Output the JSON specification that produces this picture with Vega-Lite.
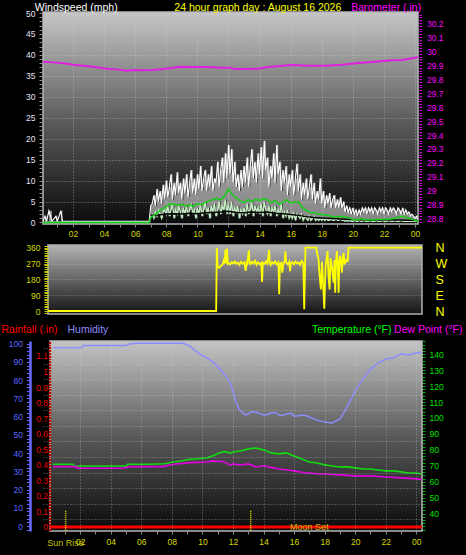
{
"$schema":"https://vega.github.io/schema/vega-lite/v6.json",
"background":"#000000",
"padding":{"left":1,"top":1,"right":6,"bottom":10},
"bounds":"flush",
"spacing":21,
"datasets":{
"wind":[{"h":0.07,"g":0.3,"s":0},{"h":0.2,"g":1.5,"s":0},{"h":0.3,"g":0.3,"s":0},{"h":0.45,"g":2.8,"s":0},{"h":0.65,"g":0.3,"s":0},{"h":0.9,"g":1.5,"s":0},{"h":1.0,"g":0.3,"s":0},{"h":1.22,"g":2.8,"s":0},{"h":1.32,"g":0.3,"s":0},{"h":6.9,"g":0.3,"s":0},
{"h":7.0,"g":4,"s":1.5},{"h":7.1,"g":4.5,"s":2},{"h":7.2,"g":6.5,"s":1},{"h":7.3,"g":4,"s":2.5},{"h":7.4,"g":8,"s":1.5},{"h":7.5,"g":5,"s":3},{"h":7.6,"g":7.5,"s":2},{"h":7.7,"g":4.5,"s":1},{"h":7.8,"g":9,"s":2.5},{"h":7.9,"g":5.5,"s":3},
{"h":8.0,"g":10,"s":2},{"h":8.1,"g":6,"s":4},{"h":8.2,"g":8.5,"s":1.5},{"h":8.3,"g":11.5,"s":3},{"h":8.4,"g":5.5,"s":4.5},{"h":8.5,"g":9.5,"s":1},{"h":8.6,"g":6.5,"s":3},{"h":8.7,"g":12,"s":2},{"h":8.8,"g":7,"s":4},{"h":8.9,"g":9.5,"s":2.5},
{"h":9.0,"g":5.5,"s":1},{"h":9.1,"g":10.5,"s":3.5},{"h":9.2,"g":7,"s":2},{"h":9.3,"g":11.5,"s":4},{"h":9.4,"g":6,"s":1.5},{"h":9.5,"g":9.5,"s":3},{"h":9.6,"g":12.5,"s":4.5},{"h":9.7,"g":7,"s":2},{"h":9.8,"g":10.5,"s":3},{"h":9.9,"g":6.5,"s":1},
{"h":10.0,"g":11.5,"s":3.5},{"h":10.1,"g":8,"s":2},{"h":10.2,"g":13.5,"s":4.5},{"h":10.3,"g":7.5,"s":1.5},{"h":10.4,"g":10.5,"s":3},{"h":10.5,"g":12.5,"s":5},{"h":10.6,"g":7.5,"s":2},{"h":10.7,"g":11.5,"s":3.5},{"h":10.8,"g":8.5,"s":1},{"h":10.9,"g":13.5,"s":4},
{"h":11.0,"g":7.5,"s":2.5},{"h":11.1,"g":10.5,"s":4.5},{"h":11.2,"g":9.5,"s":1.5},{"h":11.3,"g":14.5,"s":3},{"h":11.4,"g":8.5,"s":5},{"h":11.5,"g":12.5,"s":2},{"h":11.6,"g":15.5,"s":4},{"h":11.7,"g":9.5,"s":3},{"h":11.8,"g":16.5,"s":5.5},{"h":11.9,"g":10.5,"s":2},
{"h":12.0,"g":18.5,"s":4.5},{"h":12.1,"g":11.5,"s":2},{"h":12.2,"g":17.5,"s":5},{"h":12.3,"g":9.5,"s":1.5},{"h":12.4,"g":14.5,"s":3.5},{"h":12.5,"g":8.5,"s":2.5},{"h":12.6,"g":11.5,"s":4},{"h":12.7,"g":7.5,"s":1},{"h":12.8,"g":12.5,"s":3},{"h":12.9,"g":8.5,"s":2},
{"h":13.0,"g":13.5,"s":3.5},{"h":13.1,"g":9.5,"s":1.5},{"h":13.2,"g":15.5,"s":4.5},{"h":13.3,"g":8.5,"s":2},{"h":13.4,"g":13.5,"s":3},{"h":13.5,"g":17.5,"s":5},{"h":13.6,"g":10.5,"s":1.5},{"h":13.7,"g":14.5,"s":4},{"h":13.8,"g":9.5,"s":2.5},{"h":13.9,"g":16.5,"s":3.5},
{"h":14.0,"g":11.5,"s":2},{"h":14.1,"g":18,"s":4.5},{"h":14.2,"g":10.5,"s":1.5},{"h":14.3,"g":19.5,"s":5},{"h":14.4,"g":12.5,"s":3},{"h":14.5,"g":15.5,"s":2},{"h":14.6,"g":8.5,"s":4},{"h":14.7,"g":13.5,"s":1.5},{"h":14.8,"g":10.5,"s":3.5},{"h":14.9,"g":16.5,"s":2.5},
{"h":15.0,"g":9.5,"s":4},{"h":15.1,"g":18.5,"s":1.5},{"h":15.2,"g":11.5,"s":3},{"h":15.3,"g":14.5,"s":2},{"h":15.4,"g":7.5,"s":4.5},{"h":15.5,"g":12.5,"s":1},{"h":15.6,"g":9.5,"s":2.5},{"h":15.7,"g":13.5,"s":1.5},{"h":15.8,"g":6.5,"s":3},{"h":15.9,"g":11.5,"s":1},
{"h":16.0,"g":8.5,"s":2},{"h":16.1,"g":12.5,"s":1},{"h":16.2,"g":6.5,"s":2.5},{"h":16.3,"g":10.5,"s":0.5},{"h":16.4,"g":14,"s":2},{"h":16.5,"g":7.5,"s":1.5},{"h":16.6,"g":11.5,"s":1},{"h":16.7,"g":5.5,"s":2},{"h":16.8,"g":9.5,"s":0.5},{"h":16.9,"g":6.5,"s":1.5},
{"h":17.0,"g":10.5,"s":1},{"h":17.1,"g":5.5,"s":0.5},{"h":17.2,"g":8.5,"s":1.5},{"h":17.3,"g":11.5,"s":0.5},{"h":17.4,"g":5.5,"s":1},{"h":17.5,"g":9.5,"s":1.5},{"h":17.6,"g":4.5,"s":0.5},{"h":17.7,"g":7.5,"s":1},{"h":17.8,"g":5.5,"s":0.5},{"h":17.9,"g":10.5,"s":1},
{"h":18.0,"g":4.5,"s":0.5},{"h":18.1,"g":7.5,"s":1},{"h":18.2,"g":3.5,"s":0.5},{"h":18.3,"g":6.5,"s":1},{"h":18.4,"g":4.5,"s":0.5},{"h":18.5,"g":7,"s":0.5},{"h":18.6,"g":3.5,"s":1},{"h":18.7,"g":5.5,"s":0.5},{"h":18.8,"g":6.5,"s":0.5},{"h":18.9,"g":3.5,"s":1},
{"h":19.0,"g":5.5,"s":0.5},{"h":19.1,"g":3.5,"s":0.5},{"h":19.2,"g":6,"s":1},{"h":19.3,"g":3.5,"s":0.5},{"h":19.4,"g":5,"s":0.5},{"h":19.5,"g":2.5,"s":0.3},{"h":19.6,"g":4,"s":0.5},{"h":19.7,"g":2.5,"s":0.3},{"h":19.8,"g":3.5,"s":0.5},{"h":19.9,"g":2,"s":0.3},
{"h":20.0,"g":3.5,"s":0.3},{"h":20.1,"g":2,"s":0.5},{"h":20.2,"g":3,"s":0.3},{"h":20.3,"g":1.5,"s":0.3},{"h":20.4,"g":3,"s":0.5},{"h":20.5,"g":2,"s":0.3},{"h":20.6,"g":3.5,"s":0.3},{"h":20.7,"g":2.5,"s":0.5},{"h":20.8,"g":3.5,"s":0.3},{"h":20.9,"g":2,"s":0.3},
{"h":21.0,"g":3.5,"s":0.3},{"h":21.1,"g":2.5,"s":0.5},{"h":21.2,"g":3.5,"s":0.3},{"h":21.3,"g":2,"s":0.3},{"h":21.4,"g":3.5,"s":0.3},{"h":21.5,"g":3,"s":0.5},{"h":21.6,"g":2,"s":0.3},{"h":21.7,"g":3.5,"s":0.3},{"h":21.8,"g":2.5,"s":0.3},{"h":21.9,"g":3.5,"s":0.5},
{"h":22.0,"g":2,"s":0.3},{"h":22.1,"g":3.5,"s":0.3},{"h":22.2,"g":3,"s":0.3},{"h":22.3,"g":2,"s":0.5},{"h":22.4,"g":3.5,"s":0.3},{"h":22.5,"g":2.5,"s":0.3},{"h":22.6,"g":3.5,"s":0.3},{"h":22.7,"g":3,"s":0.5},{"h":22.8,"g":2,"s":0.3},{"h":22.9,"g":3.5,"s":0.3},
{"h":23.0,"g":3,"s":0.3},{"h":23.1,"g":2,"s":0.5},{"h":23.2,"g":3.5,"s":0.3},{"h":23.3,"g":2,"s":0.3},{"h":23.4,"g":3,"s":0.3},{"h":23.5,"g":2,"s":0.3},{"h":23.6,"g":2.5,"s":0.3},{"h":23.7,"g":1.5,"s":0.3},{"h":23.8,"g":2,"s":0.3},{"h":23.9,"g":1.5,"s":0.3},
{"h":24.0,"g":1,"s":0.3},{"h":24.1,"g":1.5,"s":0.3},{"h":24.19,"g":0.5,"s":0.3}],
"avg":[{"h":0.07,"a":0},{"h":6.9,"a":0},{"h":7.0,"a":1.2},{"h":7.25,"a":1.8},{"h":7.5,"a":2.6},{"h":7.75,"a":3.2},{"h":8.0,"a":3.8},{"h":8.25,"a":4.5},{"h":8.5,"a":4.3},{"h":8.75,"a":4.1},{"h":9.0,"a":4.4},{"h":9.25,"a":3.9},{"h":9.5,"a":4.3},{"h":9.75,"a":3.8},{"h":10.0,"a":4.5},{"h":10.25,"a":4.2},{"h":10.5,"a":4.8},{"h":10.75,"a":5.1},{"h":11.0,"a":5.5},{"h":11.25,"a":5.8},{"h":11.5,"a":5.4},{"h":11.75,"a":6.4},{"h":12.0,"a":8.0},{"h":12.25,"a":6.6},{"h":12.5,"a":5.9},{"h":12.75,"a":5.1},{"h":13.0,"a":4.8},{"h":13.25,"a":5.4},{"h":13.5,"a":5.0},{"h":13.75,"a":5.6},{"h":14.0,"a":5.2},{"h":14.25,"a":5.7},{"h":14.5,"a":5.4},{"h":14.75,"a":4.7},{"h":15.0,"a":5.2},{"h":15.25,"a":4.4},{"h":15.5,"a":4.8},{"h":15.75,"a":5.4},{"h":16.0,"a":4.6},{"h":16.25,"a":4.9},{"h":16.5,"a":4.9},{"h":16.75,"a":3.6},{"h":17.0,"a":2.9},{"h":17.25,"a":2.4},{"h":17.5,"a":2.3},{"h":17.75,"a":2.1},{"h":18.0,"a":1.9},{"h":18.25,"a":1.8},{"h":18.5,"a":1.6},{"h":18.75,"a":1.3},{"h":19.0,"a":1.3},{"h":19.25,"a":1.5},{"h":19.5,"a":1.3},{"h":19.75,"a":1.1},{"h":20.0,"a":0.7},{"h":20.25,"a":0.6},{"h":20.5,"a":0.9},{"h":20.75,"a":0.7},{"h":21.0,"a":0.6},{"h":21.25,"a":0.7},{"h":21.5,"a":0.6},{"h":21.75,"a":0.8},{"h":22.0,"a":0.7},{"h":22.25,"a":0.7},{"h":22.5,"a":0.9},{"h":22.75,"a":1.0},{"h":23.0,"a":1.4},{"h":23.25,"a":1.5},{"h":23.5,"a":1.1},{"h":23.75,"a":0.9},{"h":24.0,"a":0.5},{"h":24.19,"a":0.3}],
"blk":[{"h":7.0,"k":1.7},{"h":7.5,"k":1.8},{"h":8.0,"k":2.0},{"h":8.5,"k":2.1},{"h":9.0,"k":2.0},{"h":9.5,"k":2.2},{"h":10.0,"k":2.1},{"h":10.5,"k":2.3},{"h":11.0,"k":2.4},{"h":11.5,"k":2.5},{"h":12.0,"k":2.7},{"h":12.5,"k":2.4},{"h":13.0,"k":2.3},{"h":13.5,"k":2.5},{"h":14.0,"k":2.4},{"h":14.5,"k":2.5},{"h":15.0,"k":2.2},{"h":15.5,"k":2.1},{"h":16.0,"k":1.9},{"h":16.5,"k":1.7},{"h":17.0,"k":1.4},{"h":17.5,"k":1.2},{"h":18.0,"k":1.1},{"h":18.5,"k":1.0},{"h":19.0,"k":0.9},{"h":19.5,"k":0.8},{"h":20.0,"k":0.7},{"h":21.0,"k":0.6},{"h":22.0,"k":0.6},{"h":23.0,"k":0.6},{"h":24.19,"k":0.5}],
"baro":[{"h":0.07,"b":29.924},{"h":0.73,"b":29.919},{"h":1.38,"b":29.912},{"h":2.02,"b":29.902},{"h":2.66,"b":29.895},{"h":3.31,"b":29.888},{"h":4.17,"b":29.874},{"h":4.81,"b":29.869},{"h":5.46,"b":29.859},{"h":5.88,"b":29.864},{"h":6.52,"b":29.862},{"h":7.17,"b":29.864},{"h":7.81,"b":29.871},{"h":8.45,"b":29.881},{"h":8.88,"b":29.888},{"h":9.74,"b":29.886},{"h":10.6,"b":29.886},{"h":11.46,"b":29.881},{"h":12.1,"b":29.881},{"h":12.42,"b":29.871},{"h":13.07,"b":29.871},{"h":13.92,"b":29.874},{"h":14.56,"b":29.886},{"h":16.07,"b":29.9},{"h":17.14,"b":29.895},{"h":18.21,"b":29.895},{"h":19.29,"b":29.902},{"h":20.35,"b":29.914},{"h":21.43,"b":29.924},{"h":22.5,"b":29.934},{"h":23.15,"b":29.936},{"h":24.0,"b":29.952},{"h":24.19,"b":29.958}],
"dir":[{"h":0.39,"d":0},{"h":11.2,"d":0},{"h":11.24,"d":360},{"h":11.3,"d":250},{"h":11.4,"d":245},{"h":11.5,"d":258},{"h":11.6,"d":262},{"h":11.7,"d":290},{"h":11.75,"d":270},{"h":11.8,"d":350},{"h":11.85,"d":270},{"h":11.9,"d":355},{"h":11.95,"d":268},{"h":12.0,"d":272},{"h":12.1,"d":265},{"h":12.2,"d":278},{"h":12.3,"d":270},{"h":12.4,"d":282},{"h":12.5,"d":268},{"h":12.6,"d":275},{"h":12.7,"d":262},{"h":12.8,"d":280},{"h":12.9,"d":270},{"h":13.0,"d":276},{"h":13.1,"d":228},{"h":13.15,"d":275},{"h":13.2,"d":268},{"h":13.3,"d":345},{"h":13.35,"d":272},{"h":13.4,"d":266},{"h":13.5,"d":280},{"h":13.6,"d":270},{"h":13.7,"d":285},{"h":13.8,"d":262},{"h":13.9,"d":278},{"h":14.0,"d":265},{"h":14.1,"d":272},{"h":14.15,"d":165},{"h":14.2,"d":275},{"h":14.3,"d":268},{"h":14.4,"d":282},{"h":14.5,"d":270},{"h":14.6,"d":348},{"h":14.65,"d":275},{"h":14.7,"d":262},{"h":14.8,"d":278},{"h":14.9,"d":270},{"h":15.0,"d":283},{"h":15.1,"d":265},{"h":15.2,"d":276},{"h":15.25,"d":95},{"h":15.3,"d":268},{"h":15.4,"d":275},{"h":15.45,"d":218},{"h":15.5,"d":262},{"h":15.6,"d":284},{"h":15.65,"d":340},{"h":15.7,"d":275},{"h":15.8,"d":266},{"h":15.9,"d":280},{"h":15.95,"d":226},{"h":16.0,"d":270},{"h":16.1,"d":278},{"h":16.2,"d":265},{"h":16.3,"d":282},{"h":16.4,"d":270},{"h":16.5,"d":276},{"h":16.6,"d":262},{"h":16.7,"d":285},{"h":16.8,"d":272},{"h":16.86,"d":10},{"h":16.94,"d":360},{"h":17.63,"d":360},{"h":17.68,"d":331},{"h":17.78,"d":294},{"h":17.85,"d":200},{"h":17.93,"d":123},{"h":18.0,"d":280},{"h":18.06,"d":180},{"h":18.15,"d":13},{"h":18.23,"d":256},{"h":18.3,"d":300},{"h":18.36,"d":341},{"h":18.42,"d":200},{"h":18.49,"d":123},{"h":18.55,"d":300},{"h":18.6,"d":275},{"h":18.68,"d":220},{"h":18.75,"d":161},{"h":18.8,"d":290},{"h":18.85,"d":104},{"h":18.9,"d":280},{"h":18.96,"d":341},{"h":19.02,"d":250},{"h":19.07,"d":104},{"h":19.12,"d":290},{"h":19.18,"d":313},{"h":19.23,"d":270},{"h":19.28,"d":218},{"h":19.34,"d":300},{"h":19.39,"d":331},{"h":19.45,"d":270},{"h":19.5,"d":275},{"h":19.55,"d":285},{"h":19.61,"d":294},{"h":19.66,"d":280},{"h":19.71,"d":360},{"h":24.43,"d":360}],
"hum":[{"h":0.23,"v":97.8},{"h":2.13,"v":97.8},{"h":2.19,"v":99.1},{"h":5.05,"v":99.1},{"h":5.14,"v":99.7},{"h":5.66,"v":100.2},{"h":8.74,"v":100.2},{"h":9.2,"v":98.7},{"h":9.42,"v":96.9},{"h":9.86,"v":94.2},{"h":10.29,"v":92.3},{"h":10.73,"v":89.6},{"h":11.17,"v":86.0},{"h":11.6,"v":81.3},{"h":11.82,"v":78.6},{"h":12.0,"v":74},{"h":12.2,"v":68},{"h":12.4,"v":64},{"h":12.6,"v":62.5},{"h":12.8,"v":61.0},{"h":13.0,"v":61.4},{"h":13.2,"v":62.7},{"h":13.5,"v":62.5},{"h":13.8,"v":61.5},{"h":14.0,"v":60.9},{"h":14.2,"v":61.0},{"h":14.5,"v":62},{"h":14.8,"v":62.3},{"h":15.0,"v":60.9},{"h":15.2,"v":60.6},{"h":15.5,"v":61.4},{"h":15.8,"v":61.8},{"h":16.0,"v":60.3},{"h":16.2,"v":60.4},{"h":16.5,"v":60.9},{"h":16.8,"v":60.5},{"h":17.0,"v":59.8},{"h":17.5,"v":58.1},{"h":18.0,"v":57},{"h":18.5,"v":56.5},{"h":19.0,"v":58.7},{"h":19.5,"v":65.8},{"h":20.0,"v":74.1},{"h":20.5,"v":80.6},{"h":21.0,"v":86.1},{"h":21.5,"v":89.4},{"h":22.0,"v":91.6},{"h":22.5,"v":92.2},{"h":23.0,"v":94.4},{"h":23.5,"v":93.8},{"h":24.0,"v":94.9},{"h":24.35,"v":95.4}],
"temp":[{"h":0.23,"t":71.0},{"h":1.54,"t":71.0},{"h":1.6,"t":69.9},{"h":5.06,"t":69.9},{"h":5.1,"t":71.0},{"h":6.5,"t":71.0},{"h":7.5,"t":71.3},{"h":8.1,"t":72.4},{"h":8.6,"t":73.0},{"h":9.2,"t":74.1},{"h":9.7,"t":74.4},{"h":10.3,"t":75.1},{"h":10.7,"t":76.3},{"h":11.17,"t":78.3},{"h":11.5,"t":78.9},{"h":11.82,"t":77.9},{"h":12.0,"t":78.7},{"h":12.5,"t":79.3},{"h":13.0,"t":80.6},{"h":13.5,"t":81.2},{"h":14.0,"t":80.0},{"h":14.5,"t":78.1},{"h":15.0,"t":77.5},{"h":15.5,"t":78.1},{"h":16.0,"t":76.2},{"h":16.5,"t":74.3},{"h":17.0,"t":72.4},{"h":17.5,"t":71.8},{"h":18.0,"t":70.6},{"h":18.5,"t":69.9},{"h":19.0,"t":69.3},{"h":19.5,"t":69.3},{"h":20.0,"t":68.7},{"h":20.5,"t":68.0},{"h":21.0,"t":68.0},{"h":21.5,"t":67.4},{"h":22.0,"t":66.8},{"h":22.5,"t":66.8},{"h":23.0,"t":66.2},{"h":23.5,"t":65.5},{"h":24.0,"t":65.5},{"h":24.35,"t":64.9}],
"dew":[{"h":0.23,"dp":69.5},{"h":1.78,"dp":69.5},{"h":1.8,"dp":68.5},{"h":4.8,"dp":68.5},{"h":5.27,"dp":69.5},{"h":7.4,"dp":69.5},{"h":8.1,"dp":71.0},{"h":9.2,"dp":72.0},{"h":10.3,"dp":72.4},{"h":10.7,"dp":73.1},{"h":11.4,"dp":72.6},{"h":11.82,"dp":70.4},{"h":12.0,"dp":71.2},{"h":12.5,"dp":70.5},{"h":13.0,"dp":71.2},{"h":13.5,"dp":69.3},{"h":14.0,"dp":70.0},{"h":14.5,"dp":69.0},{"h":15.0,"dp":68.0},{"h":15.5,"dp":67.5},{"h":16.0,"dp":66.8},{"h":16.5,"dp":66.0},{"h":17.0,"dp":65.5},{"h":17.5,"dp":65.0},{"h":18.0,"dp":64.9},{"h":18.5,"dp":64.5},{"h":19.0,"dp":64.3},{"h":20.0,"dp":63.7},{"h":21.0,"dp":63.7},{"h":22.0,"dp":63.0},{"h":23.0,"dp":62.4},{"h":24.0,"dp":61.8},{"h":24.35,"dp":61.5}],
"rain":[{"h":0.03,"r":0},{"h":24.37,"r":0}],
"ev":[{"h":1.05},{"h":13.16}],
"notes":[{"h":17.0,"r":0,"label":"Moon Set"},{"h":1.05,"r":-0.1,"label":"Sun Rise"}]
},
"vconcat":[
{
"width":375,"height":212,
"view":{"fill":{"gradient":"linear","x1":0,"y1":0,"x2":0,"y2":1,"stops":[{"offset":0,"color":"#c6c6c6"},{"offset":0.5,"color":"#5e5e5e"},{"offset":1,"color":"#0a0a0a"}]},"stroke":"#b8b8b8","strokeWidth":1.5},
"layer":[
{"layer":[
{"data":{"name":"wind"},"mark":{"type":"area","color":"#ececec","opacity":0.55,"interpolate":"step-after"},
"encoding":{"x":{"field":"h","type":"quantitative","scale":{"domain":[0.07,24.19],"nice":false,"zero":false},
"axis":{"orient":"bottom","values":[1,2,3,4,5,6,7,8,9,10,11,12,13,14,15,16,17,18,19,20,21,22,23,24],"tickCount":40,"format":"02d","labelExpr":"datum.value % 2 == 0 ? (datum.value == 24 ? '00' : datum.label) : ''","labelOverlap":false,"labelColor":"#d8d800","tickColor":"#8a8a8a","tickSize":3,"labelPadding":2.5,"domain":false,"grid":true,"gridOpacity":{"condition":{"test":"datum.value % 2 != 0","value":0},"value":0.55},"title":null}},
"y":{"field":"s","type":"quantitative","scale":{"domain":[-0.36,50.24],"nice":false,"zero":false},
"axis":{"orient":"left","tickCount":50,"labelExpr":"datum.value % 5 == 0 ? datum.label : ''","labelOverlap":false,"labelColor":"#e4e4f4","tickColor":"#8c8c8c","tickSize":3,"offset":1,"labelPadding":4,"domain":false,"grid":true,"gridOpacity":{"condition":{"test":"datum.value % 5 != 0 || datum.value <= 0 || datum.value >= 50","value":0},"value":0.55},"title":"Windspeed (mph)","titleColor":"#ffffff","titleAlign":"left","titleBaseline":"alphabetic","titleX":-7.7,"titleY":-1.7}},
"y2":{"field":"g"}}},
{"data":{"name":"wind"},"mark":{"type":"line","color":"#ffffff","strokeWidth":1.1},
"encoding":{"x":{"field":"h","type":"quantitative","scale":{"domain":[0.07,24.19],"nice":false,"zero":false}},
"y":{"field":"g","type":"quantitative","scale":{"domain":[-0.36,50.24],"nice":false,"zero":false}}}},
{"data":{"name":"wind"},"mark":{"type":"line","color":"#c4f0c4","strokeWidth":1.3},
"encoding":{"x":{"field":"h","type":"quantitative","scale":{"domain":[0.07,24.19],"nice":false,"zero":false}},
"y":{"field":"s","type":"quantitative","scale":{"domain":[-0.36,50.24],"nice":false,"zero":false}}}},
{"data":{"name":"blk"},"mark":{"type":"line","color":"#000000","strokeWidth":1.5},
"encoding":{"x":{"field":"h","type":"quantitative","scale":{"domain":[0.07,24.19],"nice":false,"zero":false}},
"y":{"field":"k","type":"quantitative","scale":{"domain":[-0.36,50.24],"nice":false,"zero":false}}}},
{"data":{"name":"avg"},"mark":{"type":"line","color":"#14d014","strokeWidth":1.5},
"encoding":{"x":{"field":"h","type":"quantitative","scale":{"domain":[0.07,24.19],"nice":false,"zero":false}},
"y":{"field":"a","type":"quantitative","scale":{"domain":[-0.36,50.24],"nice":false,"zero":false}}}}
]},
{"data":{"name":"baro"},"mark":{"type":"line","color":"#e020e0","strokeWidth":2},
"encoding":{"x":{"field":"h","type":"quantitative","scale":{"domain":[0.07,24.19],"nice":false,"zero":false},
"axis":{"orient":"top","labels":false,"ticks":false,"domain":false,"grid":false,"title":"24 hour graph day : August 16 2026","titleColor":"#ffff00","titleAlign":"center","titleBaseline":"alphabetic","titleX":214.3,"titleY":-1.7}},
"y":{"field":"b","type":"quantitative","scale":{"domain":[28.764,30.279],"nice":false,"zero":false},
"axis":{"orient":"right","tickCount":75,"labelExpr":"abs(datum.value*10 - round(datum.value*10)) < 0.001 ? '' + round(datum.value*10)/10 : ''","labelOverlap":false,"labelColor":"#ff00ff","tickColor":"#e000e0","tickSize":2.5,"offset":1,"labelPadding":5,"domain":false,"grid":false,"title":"Barometer (.in)","titleColor":"#ff00ff","titleAlign":"right","titleBaseline":"alphabetic","titleX":1.7,"titleY":-1.7}}}}
],
"resolve":{"scale":{"x":"independent","y":"independent"}}
},
{
"bounds":"flush",
"spacing":27,
"vconcat":[
{
"width":379,"height":69,
"layer":[
{"data":{"values":[{}]},"mark":{"type":"rect","fill":{"gradient":"linear","x1":0,"y1":0,"x2":0,"y2":1,"stops":[{"offset":0,"color":"#b4b4b4"},{"offset":1,"color":"#141414"}]},"stroke":"#b0b0b0","strokeWidth":1.5},
"encoding":{"x":{"datum":0.39,"type":"quantitative","scale":{"domain":[0.07,24.43],"nice":false,"zero":false},"axis":null},"x2":{"datum":24.43},
"y":{"datum":-17,"type":"quantitative","scale":{"domain":[-17,375.3],"nice":false,"zero":false},
"axis":{"orient":"left","tickCount":39,"labelExpr":"datum.value % 90 == 0 && datum.value >= 0 ? datum.label : ''","labelOverlap":false,"labelColor":"#d8d800","tickColor":"#c8c800","tickSize":4,"offset":-5,"labelPadding":4,"domain":false,"grid":true,"gridOpacity":{"condition":{"test":"datum.value % 90 != 0 || datum.value <= 0 || datum.value >= 360","value":0},"value":0.45},"zindex":1,"title":null}},"y2":{"datum":375.3}}},
{"data":{"name":"dir"},"mark":{"type":"line","color":"#ffff00","strokeWidth":1.8},
"encoding":{"x":{"field":"h","type":"quantitative","scale":{"domain":[0.07,24.43],"nice":false,"zero":false},"axis":null},
"y":{"field":"d","type":"quantitative","scale":{"domain":[-17,375.3],"nice":false,"zero":false},
"axis":{"orient":"right","values":[0,90,180,270,360],"tickCount":10,"labelExpr":"datum.value == 90 ? 'E' : datum.value == 180 ? 'S' : datum.value == 270 ? 'W' : 'N'","labelOverlap":false,"labelColor":"#ffff00","labelFontSize":12.5,"ticks":false,"domain":false,"grid":false,"labelPadding":13,"title":null}}}}
],
"resolve":{"scale":{"y":"independent"}}
},
{
"width":379,"height":190,
"layer":[
{"layer":[
{"data":{"values":[{}]},"mark":{"type":"rect","fill":{"gradient":"linear","x1":0,"y1":0,"x2":0,"y2":1,"stops":[{"offset":0,"color":"#c4c4c4"},{"offset":0.5,"color":"#5a5a5a"},{"offset":1,"color":"#0a0a0a"}]},"stroke":"#b8b8b8","strokeWidth":1.5},
"encoding":{"x":{"datum":0.03,"type":"quantitative","scale":{"domain":[-0.43,24.37],"nice":false,"zero":false},
"axis":{"orient":"bottom","values":[1,2,3,4,5,6,7,8,9,10,11,12,13,14,15,16,17,18,19,20,21,22,23,24],"tickCount":40,"format":"02d","labelExpr":"datum.value % 2 == 0 ? (datum.value == 24 ? '00' : datum.label) : ''","labelOverlap":false,"labelColor":"#d8d800","tickColor":"#8a8a8a","tickSize":3,"labelPadding":3,"domain":false,"grid":true,"gridOpacity":{"condition":{"test":"datum.value % 2 != 0","value":0},"value":0.5},"zindex":1,"title":null}},
"x2":{"datum":24.37},
"y":{"datum":-0.026,"type":"quantitative","scale":{"domain":[-0.026,1.196],"nice":false,"zero":false},
"axis":{"orient":"left","tickCount":122,"labelExpr":"(datum.value >= 0 && abs(datum.value*10 - round(datum.value*10)) < 0.001) ? format(datum.value, '~g') : ''","labelOverlap":false,"labelColor":"#ee0000","tickColor":"#c00000","tickSize":2.4,"offset":-7.7,"labelPadding":0.8,"domain":false,"grid":true,"gridOpacity":{"condition":{"test":"abs(datum.value*10 - floor(datum.value*10) - 0.5) < 0.01","value":0.5},"value":0},"zindex":1,"title":"Rainfall (.in)","titleColor":"#ff0000","titleAlign":"left","titleBaseline":"alphabetic","titleX":-49.7,"titleY":-9}},
"y2":{"datum":1.196}}},
{"data":{"name":"rain"},"mark":{"type":"line","color":"#ff0000","strokeWidth":3},
"encoding":{"x":{"field":"h","type":"quantitative","scale":{"domain":[-0.43,24.37],"nice":false,"zero":false}},
"y":{"field":"r","type":"quantitative","scale":{"domain":[-0.026,1.196],"nice":false,"zero":false}}}},
{"data":{"name":"ev"},"mark":{"type":"rule","color":"#e8e800","strokeWidth":1.5,"strokeDash":[1,1]},
"encoding":{"x":{"field":"h","type":"quantitative","scale":{"domain":[-0.43,24.37],"nice":false,"zero":false}},
"y":{"datum":0.105,"type":"quantitative","scale":{"domain":[-0.026,1.196],"nice":false,"zero":false}},"y2":{"datum":-0.026}}},
{"data":{"name":"notes"},"mark":{"type":"text","color":"#c0c000","font":"Liberation Sans","fontSize":9,"baseline":"middle"},
"encoding":{"x":{"field":"h","type":"quantitative","scale":{"domain":[-0.43,24.37],"nice":false,"zero":false}},
"y":{"field":"r","type":"quantitative","scale":{"domain":[-0.026,1.196],"nice":false,"zero":false}},"text":{"field":"label"}}}
]},
{"data":{"name":"hum"},"mark":{"type":"line","color":"#8c8cff","strokeWidth":1.5},
"encoding":{"x":{"field":"h","type":"quantitative","scale":{"domain":[-0.43,24.37],"nice":false,"zero":false}},
"y":{"field":"v","type":"quantitative","scale":{"domain":[-2.74,101.5],"nice":false,"zero":false},
"axis":{"orient":"left","offset":13,"tickCount":52,"labelExpr":"datum.value % 10 == 0 && datum.value >= 0 ? datum.label : ''","labelOverlap":false,"labelColor":"#5a6aff","tickColor":"#6a6aff","tickSize":3.5,"labelPadding":4,"domain":true,"domainColor":"#6a6aff","domainWidth":2.5,"grid":false,"title":"Humidity","titleColor":"#8c8cff","titleAlign":"left","titleBaseline":"alphabetic","titleX":37,"titleY":-9}}}},
{"data":{"name":"temp"},"mark":{"type":"line","color":"#10dc10","strokeWidth":1.6},
"encoding":{"x":{"field":"h","type":"quantitative","scale":{"domain":[-0.43,24.37],"nice":false,"zero":false}},
"y":{"field":"t","type":"quantitative","scale":{"domain":[29.1,148.3],"nice":false,"zero":false},
"axis":{"orient":"right","tickCount":60,"labelExpr":"datum.value % 10 == 0 && datum.value >= 40 && datum.value <= 140 ? datum.label : ''","labelOverlap":false,"labelColor":"#00e000","tickColor":"#00b000","tickSize":3,"labelPadding":4,"domain":false,"grid":false,"title":"Temperature (°F)","titleColor":"#00ff00","titleAlign":"right","titleBaseline":"alphabetic","titleX":-31,"titleY":-9}}}},
{"data":{"name":"dew"},"mark":{"type":"line","color":"#e000e0","strokeWidth":1.6},
"encoding":{"x":{"field":"h","type":"quantitative","scale":{"domain":[-0.43,24.37],"nice":false,"zero":false}},
"y":{"field":"dp","type":"quantitative","scale":{"domain":[29.1,148.3],"nice":false,"zero":false},
"axis":{"orient":"right","labels":false,"ticks":false,"domain":false,"grid":false,"title":"Dew Point (°F)","titleColor":"#ff00ff","titleAlign":"right","titleBaseline":"alphabetic","titleX":40,"titleY":-9}}}}
],
"resolve":{"scale":{"y":"independent"}}
}
]
}
],
"config":{
"view":{"stroke":null},
"axis":{"labelFont":"Liberation Sans","labelFontSize":8.5,"titleFont":"Liberation Sans","titleFontSize":10.5,"titleFontWeight":"normal","labelOverlap":false,"labelFlush":false,"labelBound":false,"gridDash":[1,2],"gridColor":"#d0d0d0","titleAngle":0,"titlePadding":0}
}
}
